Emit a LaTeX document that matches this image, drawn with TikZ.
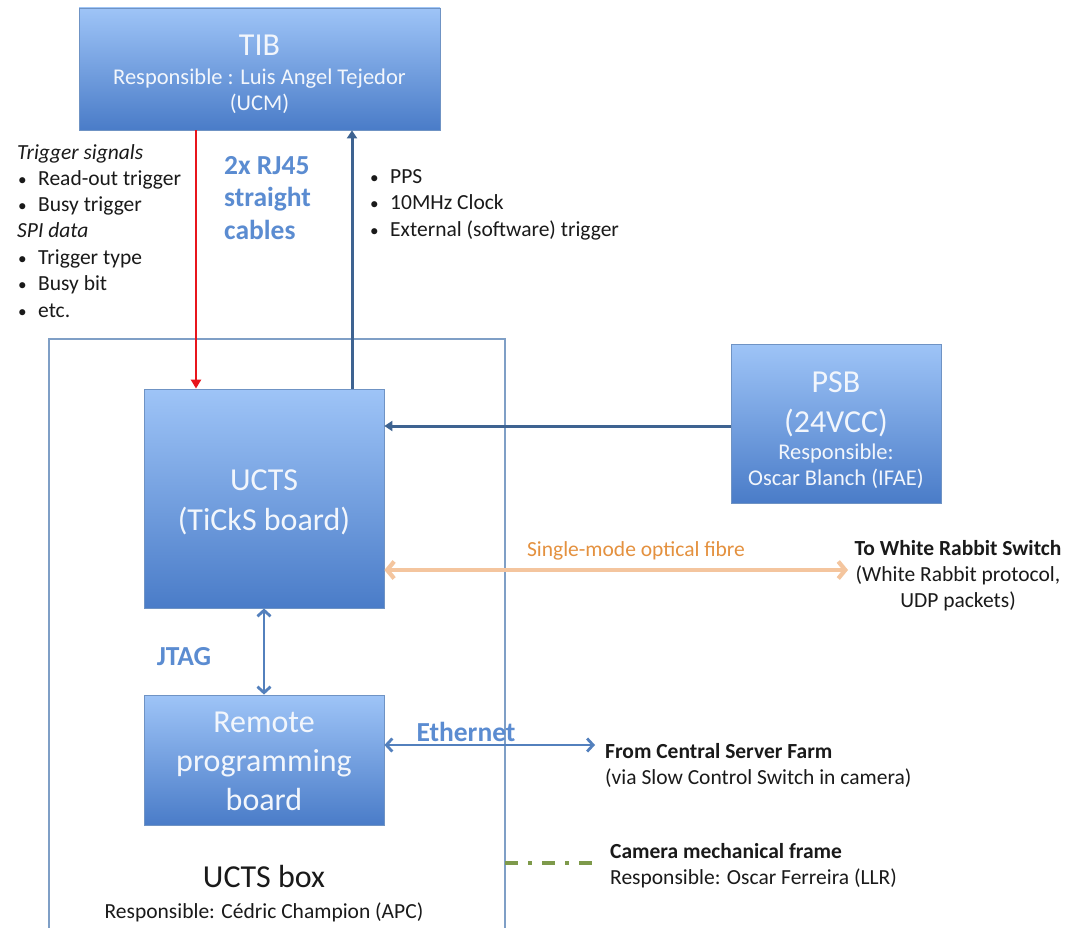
\documentclass[tikz,border=0pt]{standalone}
\usepackage{fontspec}
\setmainfont{Carlito}
\usetikzlibrary{arrows.meta}
\definecolor{boxtop}{HTML}{9EC4F7}
\definecolor{boxbot}{HTML}{4A7CC8}
\definecolor{boxedge}{HTML}{6F93C4}
\definecolor{darkarrow}{HTML}{3E6391}
\definecolor{midarrow}{HTML}{5380BD}
\definecolor{lblblue}{HTML}{5B8CD1}
\definecolor{fibre}{HTML}{F4C59E}
\definecolor{fibretext}{HTML}{E4913F}
\definecolor{framegreen}{HTML}{7E9A4B}
\definecolor{framecol}{HTML}{7F9FC6}
\definecolor{redarrow}{HTML}{E8151C}
\definecolor{boxtext}{HTML}{F2F6FC}
\definecolor{ink}{HTML}{1A1A1A}
\newcommand{\bigsz}{\fontsize{32}{40}\selectfont}
\newcommand{\smsz}{\fontsize{21.5}{26}\selectfont}
\newcommand{\boxsz}{\fontsize{22.5}{26}\selectfont}
\newcommand{\bul}{\makebox[21pt][l]{\hspace{1pt}\scalebox{0.8}{\textbullet}}}
\begin{document}
\begin{tikzpicture}[x=1pt,y=-1pt,
  board/.style={draw=boxedge, line width=0.8pt, top color=boxtop, bottom color=boxbot, inner sep=0pt},
  boardtext/.style={text=boxtext, align=center, inner sep=0pt},
  smallf/.style={font=\smsz},
  plain/.style={text=ink, inner sep=0pt, align=left},
  bluelbl/.style={text=lblblue, inner sep=0pt, align=left, font=\bfseries\fontsize{27.5}{32.5}\selectfont},
  redline/.style={draw=redarrow, line width=2.7pt, -{Triangle[length=9pt,width=10pt]}},
  darkline/.style={draw=darkarrow, line width=3pt, -{Triangle[length=8pt,width=10pt]}},
  midline/.style={draw=midarrow, line width=2.8pt, {Straight Barb[length=6pt,width=13pt]}-{Straight Barb[length=6pt,width=13pt]}},
  fibreline/.style={draw=fibre, line width=4.2pt, {Straight Barb[length=7pt,width=17pt]}-{Straight Barb[length=7pt,width=17pt]}},
  boxframe/.style={draw=framecol, line width=1.1pt},
  greenline/.style={draw=framegreen, line width=3.5pt, dash pattern=on 13pt off 10pt on 4pt off 10pt}
]
\useasboundingbox (0,0) rectangle (1066,928);
\fill[white] (0,0) rectangle (1066,928);

% UCTS box frame
\draw[boxframe] (49,940) -- (49,339) -- (505,339) -- (505,940);

% boards
\node[board, minimum width=361pt, minimum height=122pt] (TIB) at (259.5,69) {};
\node[board, minimum width=240pt, minimum height=219pt] (UCTS) at (264,498.5) {};
\node[board, minimum width=240pt, minimum height=130pt] (RPB) at (264,760) {};
\node[board, minimum width=210pt, minimum height=159pt] (PSB) at (836,423.5) {};

% board texts
\node[boardtext, font=\boxsz] (TIBt) at (TIB.center) [yshift=-5pt]
  {{\bigsz TIB}\\[3pt]Responsible : Luis Angel Tejedor\\(UCM)};
\node[boardtext, font=\bigsz] (UCTSt) at (UCTS.center) [yshift=-4pt]
  {UCTS\\(TiCkS board)};
\node[boardtext, font=\fontsize{32}{39}\selectfont] (RPBt) at (RPB.center) [yshift=-1pt]
  {Remote\\programming\\board};
\node[boardtext, font=\boxsz] (PSBt) at (PSB.center) [yshift=-7pt]
  {{\bigsz PSB}\\[14pt]{\bigsz (24VCC)}\\[1pt]Responsible:\\Oscar Blanch (IFAE)};

% helper coordinates
\coordinate (rx) at (196,0);
\coordinate (bx) at (352,0);
\coordinate (psby) at (0,426);
\coordinate (fy) at (0,570);
\coordinate (fend) at (848,570);
\coordinate (ey) at (0,745);
\coordinate (eend) at (595,745);
\coordinate (gstart) at (505,863);
\coordinate (gend) at (600,863);

% connectors
\draw[redline] (TIB.south -| rx) -- (UCTS.north -| rx);
\draw[darkline] (UCTS.north -| bx) -- (TIB.south -| bx);
\draw[darkline] (PSB.west |- psby) -- (UCTS.east |- psby);
\draw[fibreline] (UCTS.east |- fy) -- (fend);
\draw[midline] (UCTS.south) -- (RPB.north);
\draw[midline] (RPB.east |- ey) -- (eend);
\draw[greenline] (gstart) -- (gend);

% labels
\node[plain, smallf, anchor=west] (trig) at (17,231)
  {\textit{Trigger signals}\\
   \bul Read-out trigger\\
   \bul Busy trigger\\
   \textit{SPI data}\\[0.5pt]
   \bul Trigger type\\[0.5pt]
   \bul Busy bit\\[0.5pt]
   \bul etc.};
\node[bluelbl, anchor=west] (rj) at (224,198) {2x RJ45\\straight\\cables};
\node[plain, smallf, anchor=west] (pps) at (369,205)
  {\bul PPS\\
   \bul 10MHz Clock\\[1.5pt]
   \bul External (software) trigger};
\node[text=fibretext, inner sep=0pt, font=\smsz] (fl) at (636,551) {Single-mode optical fibre};
\node[plain, smallf, align=center] (wr) at (958,576)
  {\textbf{To White Rabbit Switch}\\(White Rabbit protocol,\\UDP packets)};
\node[bluelbl] (jtag) at (184,657) {JTAG};
\node[bluelbl] (eth) at (466,732) {Ethernet};
\node[plain, smallf, anchor=west] (csf) at (605,765)
  {\textbf{From Central Server Farm}\\(via Slow Control Switch in camera)};
\node[plain, smallf, anchor=west] (cam) at (610,866)
  {\textbf{Camera mechanical frame}\\Responsible: Oscar Ferreira (LLR)};
\node[plain, align=center, font=\bigsz] (ubox) at (264,877) {UCTS box};
\node[plain, align=center, smallf] (ubresp) at (264,912) {Responsible: Cédric Champion (APC)};
\end{tikzpicture}
\end{document}
